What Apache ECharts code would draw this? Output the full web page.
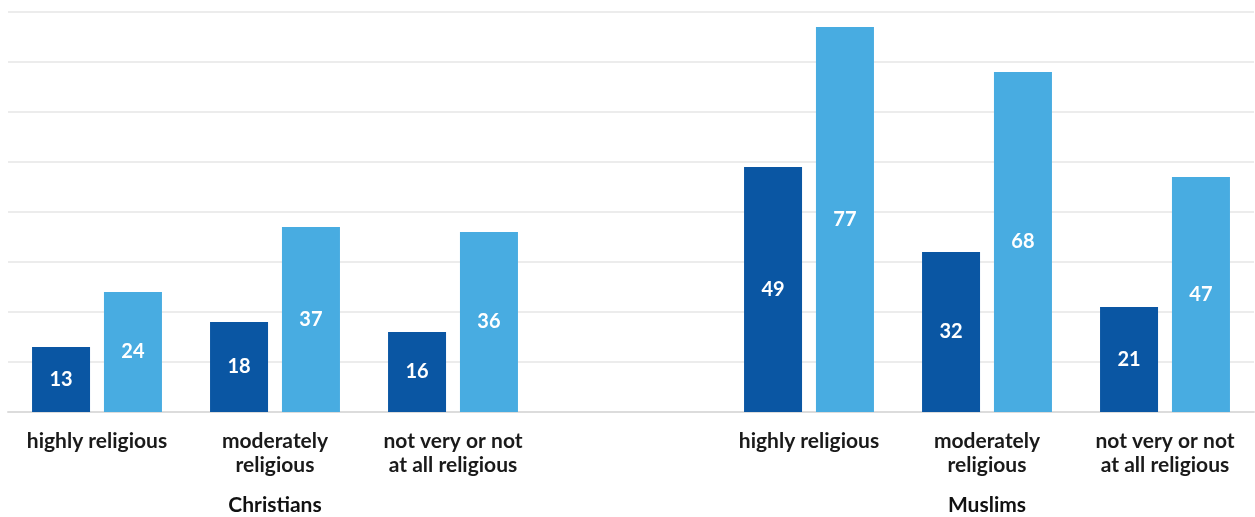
<!DOCTYPE html>
<html><head><meta charset="utf-8">
<script src="https://cdn.jsdelivr.net/npm/echarts@6/dist/echarts.min.js"></script>
<style>html,body{margin:0;padding:0;background:#fff}#c{width:1255px;height:517px}</style>
</head><body><div id="c"></div>
<script>
const categories = ['highly religious', 'moderately\nreligious', 'not very or not\nat all religious', '', 'highly religious', 'moderately\nreligious', 'not very or not\nat all religious'];
const groupLabels = ['', 'Christians', '', '', '', 'Muslims', ''];
const seriesA = [13, 18, 16, null, 49, 32, 21];
const seriesB = [24, 37, 36, null, 77, 68, 47];

const chart = echarts.init(document.getElementById('c'));
const lbl = {show: true, position: 'inside', color: '#fff', fontFamily: 'Lato', fontWeight: 'bold', fontSize: 20};
chart.setOption({
  animation: false,
  grid: {left: 8, right: 1, top: 12, bottom: 105, containLabel: false},
  xAxis: [{
    type: 'category', data: categories,
    axisLine: {lineStyle: {color: '#dcdcdc', width: 2}},
    axisTick: {inside: true, length: 10, lineStyle: {color: '#d6d6d6'}},
    axisLabel: {color: '#1a1a1a', fontFamily: 'Lato', fontWeight: 'bold', fontSize: 21, lineHeight: 24, margin: 17, interval: 0}
  }, {
    type: 'category', data: groupLabels, position: 'bottom',
    axisLine: {show: false}, axisTick: {show: false},
    axisLabel: {color: '#111', fontFamily: 'Lato', fontWeight: 'bold', fontSize: 21, lineHeight: 24, margin: 81, interval: 0}
  }],
  yAxis: {type: 'value', min: 0, max: 80, interval: 10,
    axisLabel: {show: false}, axisLine: {show: false}, axisTick: {show: false},
    splitLine: {lineStyle: {color: '#e6e6e6', width: 1.5}}},
  series: [
    {type: 'bar', data: seriesA, itemStyle: {color: '#0a56a3'}, barWidth: 58, barGap: '24%', label: lbl},
    {type: 'bar', data: seriesB, itemStyle: {color: '#48ace1'}, barWidth: 58, label: lbl}
  ]
});
</script></body></html>
